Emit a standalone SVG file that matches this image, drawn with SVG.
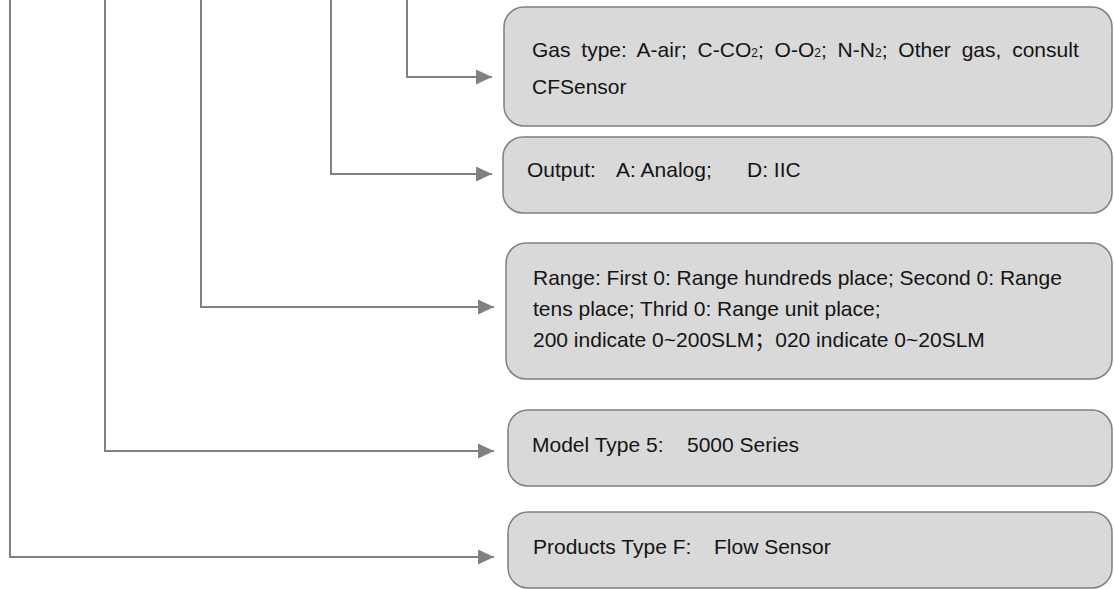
<svg xmlns="http://www.w3.org/2000/svg" width="1114" height="589" viewBox="0 0 1114 589">
<style>
.box{fill:#d9d9d9;stroke:#7f7f7f;stroke-width:1.5}
.t{font-family:"Liberation Sans",Arial,"Noto Sans CJK SC",sans-serif;font-size:21px;fill:#141414}
.sub{font-size:12px}
.conn{fill:none;stroke:#808080;stroke-width:2}
</style>
<defs>
<marker id="ah" markerUnits="userSpaceOnUse" markerWidth="16" markerHeight="16" refX="16" refY="7.5" orient="auto">
<path d="M0,0 L16,7.5 L0,15 z" fill="#808080"/>
</marker>
</defs>
<rect width="1114" height="589" fill="#ffffff"/>
<g id="connectors">
<path class="conn" d="M407,0 V77 H492" marker-end="url(#ah)"/>
<path class="conn" d="M331,0 V174 H492" marker-end="url(#ah)"/>
<path class="conn" d="M201,0 V307 H494" marker-end="url(#ah)"/>
<path class="conn" d="M105,0 V451 H494" marker-end="url(#ah)"/>
<path class="conn" d="M10,0 V557 H494" marker-end="url(#ah)"/>
</g>
<g id="gas">
<rect class="box" x="504" y="7" width="608" height="119" rx="20"/>
<text class="t" x="532" y="57" style="word-spacing:5px">Gas type: A-air; C-CO<tspan class="sub">2</tspan>; O-O<tspan class="sub">2</tspan>; N-N<tspan class="sub">2</tspan>; Other gas, consult</text>
<text class="t" x="532" y="94">CFSensor</text>
</g>
<g id="output">
<rect class="box" x="503" y="137" width="609" height="76" rx="20"/>
<text class="t" y="177"><tspan x="527">Output:</tspan><tspan x="616">A: Analog;</tspan><tspan x="747">D: IIC</tspan></text>
</g>
<g id="range">
<rect class="box" x="506" y="243" width="606" height="136" rx="20"/>
<text class="t" x="533" y="285">Range: First 0: Range hundreds place; Second 0: Range</text>
<text class="t" x="533" y="316">tens place; Thrid 0: Range unit place;</text>
<text class="t" x="533" y="347">200 indicate 0~200SLM；020 indicate 0~20SLM</text>
</g>
<g id="model">
<rect class="box" x="508" y="410" width="604" height="76" rx="20"/>
<text class="t" y="452"><tspan x="532">Model Type 5:</tspan><tspan x="687">5000 Series</tspan></text>
</g>
<g id="products">
<rect class="box" x="508" y="512" width="604" height="76" rx="20"/>
<text class="t" y="554"><tspan x="533">Products Type F:</tspan><tspan x="714">Flow Sensor</tspan></text>
</g>
</svg>
